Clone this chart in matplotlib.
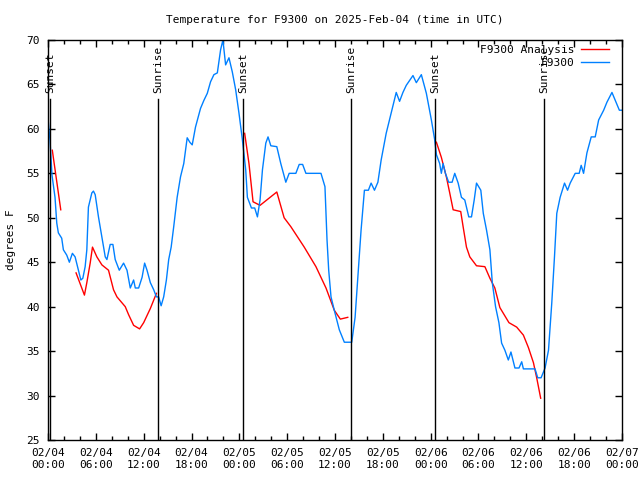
import numpy as np
import matplotlib
matplotlib.use("Agg")
import matplotlib.pyplot as plt

# hours after 2025-02-04 00:00 UTC
obs_hours = [0.0, 0.25, 0.5, 0.88, 1.1, 1.3, 1.72, 1.93, 2.35, 2.68, 3.06, 3.4, 3.81, 4.12,
             4.37, 4.66, 4.87, 5.07, 5.5, 5.7, 5.92, 6.33, 6.76, 7.18, 7.39, 7.8, 8.14, 8.43,
             8.94, 9.48, 9.91, 10.32, 10.74, 10.95, 11.37, 11.8, 12.12, 12.42, 12.84, 13.26,
             13.6, 13.88, 14.19, 14.51, 14.85, 15.14, 15.45, 15.77, 16.2, 16.62, 17.03, 17.46,
             17.79, 18.09, 18.5, 19.13, 19.55, 19.98, 20.39, 20.81, 21.24, 21.65, 21.94, 22.28,
             22.7, 23.12, 23.54, 23.95, 24.38, 24.8, 25.01, 25.52, 25.93, 26.27, 26.6, 26.9,
             27.32, 27.6, 27.95, 28.7, 29.2, 29.83, 30.25, 31.09, 31.51, 31.94, 32.35, 34.24,
             34.74, 35.0, 35.21, 35.5, 35.91, 36.54, 37.17, 38.1, 38.52, 38.86, 39.27, 39.69,
             40.19, 40.53, 40.95, 41.38, 41.79, 42.42, 43.05, 43.68, 44.1, 44.52, 44.94, 45.78,
             46.2, 46.83, 47.46, 48.09, 48.5, 48.72, 49.13, 49.34, 49.56, 49.85, 50.26, 50.69,
             51.02, 51.45, 51.86, 52.28, 52.78, 53.12, 53.46, 53.75, 54.29, 54.6, 55.01, 55.43,
             55.73, 56.14, 56.56, 56.9, 57.31, 57.74, 58.07, 58.57, 59.08, 59.42, 59.63, 61.09,
             61.43, 61.85, 62.35, 62.78, 63.19, 63.53, 63.82, 64.24, 64.79, 65.17, 65.5, 66.13,
             66.63, 66.88, 67.18, 67.6, 68.14, 68.64, 69.07, 69.7, 70.11, 70.74, 71.16, 71.67,
             71.92]
obs_temp = [61.2, 58.7, 54.8, 52.3, 49.4, 48.3, 47.7, 46.4, 45.8, 45.0, 46.0, 45.6, 44.1, 43.0,
            43.2, 44.5, 46.4, 51.2, 52.8, 53.0, 52.6, 50.1, 47.8, 45.6, 45.3, 47.0, 47.0, 45.3,
            44.1, 44.9, 44.1, 42.1, 43.0, 42.1, 42.1, 43.3, 44.9, 44.1, 42.7, 41.9,
            41.1, 41.1, 40.1, 41.1, 43.0, 45.3, 46.7, 49.0, 52.3, 54.6, 56.1, 59.0,
            58.5, 58.2, 60.2, 62.3, 63.2, 64.0, 65.3, 66.1, 66.3, 68.9, 70.0, 67.2,
            68.0, 66.4, 64.4, 61.8, 58.8, 55.4, 52.3, 51.1, 51.1, 50.1, 52.0, 55.4,
            58.4, 59.1, 58.1, 58.0, 56.1, 54.0, 55.0, 55.0, 56.0, 56.0, 55.0, 55.0,
            53.5, 47.5, 44.1, 41.1, 39.6, 37.4, 36.0, 36.0, 38.8, 43.3, 48.6, 53.1,
            53.1, 53.9, 53.1, 54.0, 56.5, 59.5, 61.8, 64.1, 63.1, 64.1, 64.9, 66.0,
            65.2, 66.1, 64.0, 61.0, 58.8, 57.1, 56.1, 55.0, 56.1, 55.0, 54.0, 54.0,
            55.0, 53.9, 52.3, 52.0, 50.1, 50.1, 52.0, 53.9, 53.1, 50.5, 48.6, 46.4,
            42.7, 40.0, 38.2, 35.9, 35.1, 34.0, 34.9, 33.1, 33.1, 33.8, 33.0, 33.0,
            32.0, 32.0, 33.1, 35.1, 40.4, 45.6, 50.5, 52.3, 53.9, 53.1, 53.9, 55.0,
            55.0, 55.9, 55.0, 57.3, 59.1, 59.1, 61.0, 62.1, 63.0, 64.1, 63.2, 62.1,
            62.1]

# analysis series, NaN marks a gap
ana_hours = [0.54, 1.6, np.nan,
             3.52, 4.57, 4.87, 5.29, 5.58, 6.13, 6.76, 7.59, 8.22, 8.65, 9.69, 10.11, 10.74,
             11.49, 12.0, 12.84, 13.6, np.nan,
             24.67, 25.21, 25.72, 26.6, 28.7, 29.62, 30.46, 32.14, 33.61, 34.87, 35.91, 36.67,
             37.6, np.nan,
             48.72, 49.34, 49.97, 50.39, 50.82, 51.77, 52.07, 52.49, 52.91, 53.75, 54.8, 55.43,
             56.05, 56.68, 57.82, 58.79, 59.63, 60.26, 60.89, 61.3, 61.8]
ana_temp = [57.6, 50.9, np.nan,
            43.8, 41.3, 42.7, 44.9, 46.7, 45.6, 44.7, 44.1, 41.9, 41.1, 40.0, 39.1, 37.9,
            37.5, 38.2, 39.8, 41.5, np.nan,
            59.5, 56.1, 51.8, 51.4, 52.9, 50.0, 49.0, 46.7, 44.5, 42.1, 39.6, 38.6,
            38.8, np.nan,
            58.5, 56.8, 54.6, 52.8, 50.9, 50.7, 49.0, 46.7, 45.6, 44.6, 44.5, 43.2,
            42.1, 39.9, 38.2, 37.7, 36.8, 35.4, 33.7, 32.0, 29.7]

sun_hours = [0.25, 13.85, 24.45, 38.05, 48.6, 62.2]
sun_labels = ["Sunset", "Sunrise", "Sunset", "Sunrise", "Sunset", "Sunrise"]

tick_hours = list(range(0, 73, 6))
tick_labels = ["02/04\n00:00", "02/04\n06:00", "02/04\n12:00", "02/04\n18:00",
               "02/05\n00:00", "02/05\n06:00", "02/05\n12:00", "02/05\n18:00",
               "02/06\n00:00", "02/06\n06:00", "02/06\n12:00", "02/06\n18:00",
               "02/07\n00:00"]

plt.rcParams["font.family"] = "DejaVu Sans Mono"
plt.rcParams["font.size"] = 8

fig = plt.figure(figsize=(6.4, 4.8), dpi=100)
ax = fig.add_axes([48 / 640, 40 / 480, 574 / 640, 400 / 480])

ax.plot(ana_hours, ana_temp, color="#ff0000", lw=1.0, label="F9300 Analysis")
ax.plot(obs_hours, obs_temp, color="#0080ff", lw=1.0, label="F9300")

for h, lab in zip(sun_hours, sun_labels):
    ax.plot([h, h], [25, 63.4], color="black", lw=1.0)
    ax.text(h, 64.0, lab, rotation=90, ha="center", va="bottom", fontsize=8)

ax.set_xlim(0, 72)
ax.set_ylim(25, 70)
ax.set_xticks(tick_hours)
ax.set_xticklabels(tick_labels)
ax.set_xticks(range(0, 73, 2), minor=True)
ax.set_yticks(range(25, 71, 5))
ax.tick_params(which="both", direction="in", top=True, right=True, width=1)
ax.tick_params(which="major", length=5, pad=6)
ax.tick_params(which="minor", length=3)
for s in ax.spines.values():
    s.set_linewidth(1.0)

ax.set_ylabel("degrees F", labelpad=7)
ax.set_title("Temperature for F9300 on 2025-Feb-04 (time in UTC)", fontsize=8, pad=12)

ax.legend(loc="upper right", bbox_to_anchor=(0.983, 0.996), markerfirst=False,
          frameon=False, fontsize=8, handlelength=2.5, borderaxespad=0, borderpad=0.3,
          labelspacing=0.25, handletextpad=0.6)

plt.savefig("out.png", dpi=100)
